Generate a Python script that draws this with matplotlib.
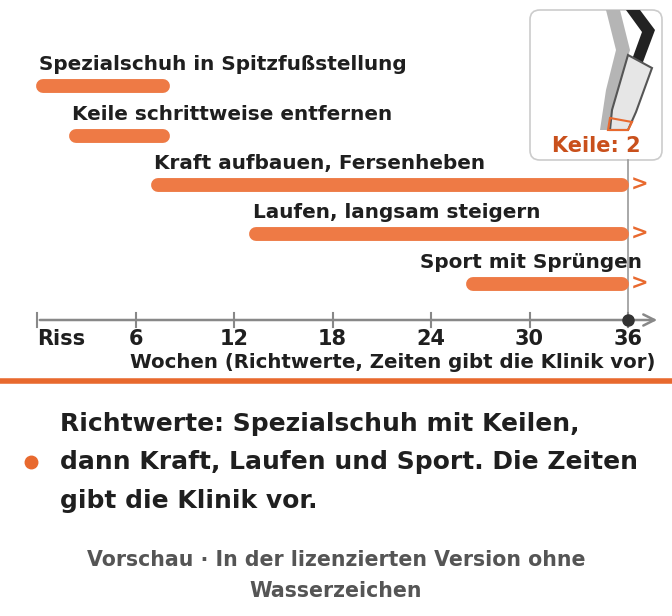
import matplotlib
matplotlib.use("Agg")
import matplotlib.pyplot as plt
from matplotlib.patches import FancyBboxPatch, Polygon

phases = ["Spezialschuh in Spitzfußstellung", "Keile schrittweise entfernen",
          "Kraft aufbauen, Fersenheben", "Laufen, langsam steigern", "Sport mit Sprüngen"]
starts = [0, 2, 7, 13, 26.2]
ends = [8, 8, 36, 36, 36]
ongoing = [False, False, True, True, True]
ticks = [0, 6, 12, 18, 24, 30, 36]
tick_labels = ["Riss", "6", "12", "18", "24", "30", "36"]
wedges = 2

ORANGE = "#ee7a45"
DARK = "#1f1f1f"
W, H = 672, 616
fig = plt.figure(figsize=(W/100, H/100), dpi=100)
ax = fig.add_axes([0, 0, 1, 1])
ppw = (628 - 37) / 36
ax.set_xlim(-37/ppw, (W-37)/ppw)
ax.set_ylim(H, 0)
ax.axis("off")
def px(x):  # pixel -> data x
    return (x - 37) / ppw

font = dict(family=["DejaVu Sans"], fontweight="bold")
ys = [86, 136, 185, 234, 284]
for i, (n, s, e, o) in enumerate(zip(phases, starts, ends, ongoing)):
    y = ys[i]
    ax.plot([s + 0.35, e - 0.35], [y, y], color=ORANGE, lw=10, solid_capstyle="round", zorder=3)
    if o:
        ax.text(e + 0.15, y, ">", color="#e8692e", fontsize=15, va="center", ha="left", **font)
    if i == len(phases) - 1:
        ax.text(px(642), y - 22, n, fontsize=14.4, ha="right", va="center", color=DARK, **font)
    else:
        ax.text(s + 0.15, y - 22, n, fontsize=14.4, ha="left", va="center", color=DARK, **font)

ax.plot([36, 36], [160, 320], color="#999999", lw=1.2, zorder=2)
ax.annotate("", xy=(px(660), 320), xytext=(0, 320),
            arrowprops=dict(arrowstyle="->", color="#888888", lw=1.8, mutation_scale=20))
for t, l in zip(ticks, tick_labels):
    ax.plot([t, t], [313, 327], color="#888888", lw=1.5)
    ax.text(t, 339, l, ha="center" if t else "left", va="center", fontsize=15, color=DARK, **font)
ax.plot(36, 320, "o", color="#333333", ms=8, zorder=4)
ax.text(px(656), 363, "Wochen (Richtwerte, Zeiten gibt die Klinik vor)", ha="right", va="center",
        fontsize=14.2, color=DARK, **font)
ax.plot([px(0), px(W)], [381, 381], color="#e8692e", lw=4, solid_capstyle="butt")

# icon
box = FancyBboxPatch((px(530), 10), (662-530)/ppw, 150, boxstyle="round,pad=0,rounding_size=0.6",
                     transform=ax.transData, fc="white", ec="#cccccc", lw=1.2, mutation_aspect=16, zorder=1)
ax.add_patch(box)
def poly(pts, **kw):
    ax.add_patch(Polygon([(px(a), b) for a, b in pts], closed=True, zorder=2, **kw))
poly([(606, 10), (620, 10), (630, 50), (618, 90), (610, 130), (600, 130), (606, 90), (616, 50)], fc="#b5b5b5", ec="none")
poly([(626, 10), (640, 10), (655, 30), (640, 70), (630, 65), (642, 32)], fc="#222222", ec="none")
poly([(628, 55), (652, 68), (636, 112), (628, 130), (610, 130), (612, 110)], fc="#e6e6e6", ec="#555555", lw=1.5)
poly([(610, 118), (632, 122), (628, 130), (608, 130)], fc="none", ec="#e8692e", lw=1.5)
ax.text(px(596), 146, f"Keile: {wedges}", ha="center", va="center", fontsize=15, color="#c9501c", **font)

# caption
ax.plot(px(31), 462, "o", color="#e8692e", ms=9)
cap = ["Richtwerte: Spezialschuh mit Keilen,", "dann Kraft, Laufen und Sport. Die Zeiten", "gibt die Klinik vor."]
for j, c in enumerate(cap):
    ax.text(px(60), 424 + j*38.5, c, ha="left", va="center", fontsize=18, color=DARK, **font)
ax.text(px(336), 560, "Vorschau · In der lizenzierten Version ohne", ha="center", va="center",
        fontsize=14.8, color="#555555", **font)
ax.text(px(336), 591, "Wasserzeichen", ha="center", va="center", fontsize=14.8, color="#555555", **font)

fig.savefig("out.png", dpi=100)
